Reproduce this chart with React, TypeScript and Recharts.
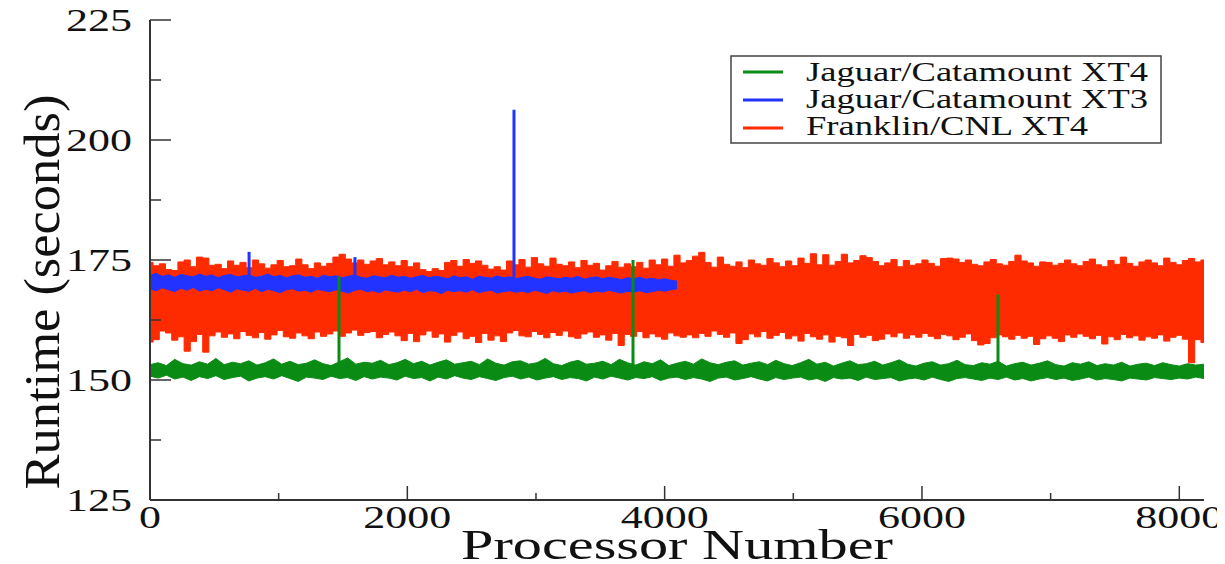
import React from "react";
import { Area, ComposedChart, Legend, Line, XAxis, YAxis } from "recharts";

const FONT = '"Liberation Serif", "Times New Roman", Times, serif';
const AXIS = "#333333";

const X_MAX = 8192;
const X_TICKS = [0, 1000, 2000, 3000, 4000, 5000, 6000, 7000, 8000];
const X_MAJOR = [0, 2000, 4000, 6000, 8000];
const Y_TICKS = [125, 137.5, 150, 162.5, 175, 187.5, 200, 212.5, 225];
const Y_MAJOR = [125, 150, 175, 200, 225];

const SERIES = ["Jaguar/Catamount XT4", "Jaguar/Catamount XT3", "Franklin/CNL XT4"];
const COLORS = ["#0a8c14", "#2233ff", "#ff2b00"];

// Franklin/CNL XT4, 0..8192, upper and lower edge of the noise band
const redTop = [
  174.5, 173.8, 174.2, 173.0, 172.8, 174.6, 175.0, 173.6, 175.6, 175.4,
  173.9, 174.1, 173.2, 174.8, 173.9, 174.5, 173.4, 175.0, 174.2, 173.3,
  174.0, 174.9, 173.6, 173.8, 175.2, 174.0, 173.2, 174.4, 173.7,
  174.3, 175.6, 176.2, 175.2, 174.4, 175.0, 174.1, 174.8, 175.3, 174.0,
  174.6, 173.8, 174.9, 173.6, 174.4, 173.0, 172.6, 173.2, 172.8, 174.5,
  174.9, 173.7, 175.1, 174.3, 174.8, 173.9, 173.1, 173.6, 172.9,
  174.8, 174.0, 175.1, 173.5, 175.5, 174.2, 173.7, 175.4, 174.1, 173.8,
  174.6, 173.4, 174.9, 173.9, 174.3, 172.9, 173.8, 174.7, 173.5, 174.2,
  173.6, 174.5, 173.3, 175.0, 174.0, 175.2, 173.7, 176.0, 174.4,
  174.9, 175.8, 176.6, 174.5, 173.5, 175.6, 174.1, 173.7, 174.6, 173.4,
  175.0, 174.2, 173.9, 175.3, 174.4, 173.6, 174.8, 173.8, 175.4, 174.3,
  176.3, 174.0, 176.1, 173.9, 174.7, 176.2, 174.4, 174.9, 175.9,
  175.5, 174.7, 173.8, 174.4, 175.1, 173.6, 174.9, 173.9, 174.2, 175.0,
  174.3, 173.7, 175.3, 175.4, 175.2, 174.5, 175.0, 174.1, 173.8, 174.6,
  175.1, 174.2, 173.9, 174.7, 176.0, 174.8, 174.4, 173.7, 174.6,
  174.5, 173.9, 174.3, 175.0, 174.2, 173.8, 174.7, 175.2, 174.0, 173.6,
  174.9, 174.1, 175.6, 174.3, 173.7, 174.6, 175.0, 174.4, 173.8, 175.4,
  174.5, 174.0, 174.9, 175.3, 174.6, 175.0,
];
const redBottom = [
  157.9, 158.4, 160.2, 159.8, 158.3, 159.0, 156.0, 158.0, 159.5, 155.8,
  159.2, 160.0, 158.9, 159.6, 158.6, 160.1, 159.3, 158.8, 159.9, 158.5,
  159.4, 160.3, 159.0, 158.7, 159.8, 159.2, 158.6, 160.0, 159.1,
  159.6, 160.2, 159.1, 159.8, 160.4, 159.3, 159.9, 160.1, 158.8, 159.5,
  160.0, 159.2, 158.2, 159.7, 158.0, 159.4, 160.2, 158.9, 159.6, 157.9,
  159.3, 160.0, 158.6, 159.1, 157.8, 159.7, 158.3, 159.2, 158.0,
  159.8, 160.3, 159.2, 159.0, 160.1, 159.5, 158.8, 159.9, 159.3, 160.2,
  159.0, 158.7, 159.6, 160.0, 158.9, 159.4, 158.3, 159.7, 157.2, 159.5,
  159.1, 160.1, 158.8, 159.6, 159.0, 158.5, 159.8, 159.2, 158.9,
  159.4, 158.8, 159.7, 159.1, 160.2, 159.5, 158.9, 159.8, 157.6, 158.4,
  159.6, 159.0, 160.1, 158.7, 159.3, 159.9, 158.6, 159.2, 158.1, 159.7,
  159.0, 158.5, 159.4, 157.9, 159.1, 158.8, 157.2, 159.5, 158.9,
  159.3, 158.2, 158.5, 159.6, 159.0, 159.8, 158.7, 159.4, 158.9, 159.7,
  159.1, 158.6, 159.5, 159.2, 158.4, 158.9, 159.6, 158.2, 157.3, 157.6,
  158.8, 159.4, 159.0, 158.5, 159.3, 158.7, 159.1, 157.4, 158.6,
  159.2, 158.7, 158.0, 159.4, 158.9, 159.6, 159.1, 158.6, 159.3, 157.5,
  159.0, 158.4, 159.5, 158.8, 159.2, 158.3, 159.0, 158.7, 159.4, 158.1,
  158.9, 159.3, 158.5, 153.6, 158.4, 157.8,
];

// Jaguar/Catamount XT3, only 0..4096
const BLUE_END = 4096;
const blueTop = [
  171.8, 172.2, 171.6, 171.9, 171.4, 172.0, 171.7, 171.5, 172.1, 171.6,
  171.9, 171.3, 171.8, 172.0, 171.5, 171.7, 171.9, 171.4, 171.6, 172.1,
  171.5, 171.8, 171.3, 171.7, 171.9, 171.4, 171.6, 171.2, 171.8, 171.5,
  171.7, 171.3, 171.6, 171.9, 171.4, 171.2, 171.7, 171.5, 171.3, 171.8,
  171.4, 171.6, 171.2, 171.5, 171.8, 171.3, 171.6, 171.4, 171.1, 171.7,
  171.3, 171.5, 171.0, 171.6, 171.4, 171.2, 171.7, 171.3, 171.5, 171.1,
  171.4, 171.6, 171.2, 171.0, 171.5, 171.3, 171.1, 171.4, 171.2, 171.6,
  171.0, 171.3, 171.5, 171.1, 171.4, 171.2, 170.9, 171.3, 171.1, 171.4,
  171.0, 171.2, 170.9, 171.1, 170.8, 170.6,
];
const blueBottom = [
  169.0, 168.6, 169.2, 168.8, 168.4, 169.1, 168.7, 169.3, 168.5, 168.9,
  168.6, 169.2, 168.8, 168.3, 169.0, 168.7, 168.5, 169.1, 168.4, 168.9,
  168.6, 168.2, 168.8, 169.0, 168.5, 168.7, 168.3, 168.9, 168.6, 168.4,
  168.8, 168.5, 168.1, 168.7, 168.9, 168.4, 168.6, 168.2, 168.8, 168.5,
  168.3, 168.7, 168.4, 168.9, 168.2, 168.6, 168.5, 168.0, 168.7, 168.4,
  168.6, 168.3, 168.8, 168.2, 168.5, 168.7, 168.1, 168.4, 168.6, 168.3,
  168.5, 168.2, 168.7, 168.4, 168.0, 168.6, 168.3, 168.5, 168.1, 168.4,
  168.6, 168.2, 168.5, 168.3, 168.7, 168.4, 168.1, 168.5, 168.3, 168.6,
  168.2, 168.4, 168.7, 168.5, 168.8, 169.0,
];

// Jaguar/Catamount XT4
const greenTop = [
  153.2, 153.6, 153.0, 154.3, 153.4, 153.1, 153.8, 153.3, 154.5, 153.2,
  153.7, 153.4, 154.0, 153.1, 153.6, 154.4, 153.3, 153.9, 153.2, 153.5,
  154.2, 153.4, 153.0, 153.8, 154.6, 153.3, 153.7, 153.5, 154.1, 153.2,
  153.6, 154.3, 153.4, 153.9, 153.1, 153.7, 154.2, 153.3, 153.6, 153.9,
  153.2, 154.4, 153.5, 153.1, 153.8, 154.0, 153.3, 153.6, 154.5, 153.4,
  153.0, 153.7, 154.1, 153.3, 153.5, 153.9, 153.2, 154.3, 153.6, 153.1,
  153.8, 153.4, 154.2, 153.0, 153.5, 153.9, 153.3, 154.4, 153.6, 153.2,
  153.7, 154.0, 153.1, 153.5, 153.8, 153.2, 154.1, 153.4, 153.0, 153.6,
  154.3, 153.3, 153.7, 152.9, 153.5, 154.0, 153.2, 153.4, 153.9, 153.1,
  153.6, 154.2, 153.3, 152.9, 153.5, 153.8, 153.1, 153.4, 154.1, 153.2,
  153.0, 153.6, 153.3, 153.9, 152.9, 153.4, 153.7, 153.1, 153.5, 154.0,
  153.2, 152.9, 153.6, 153.3, 153.8, 153.0, 153.4, 153.1, 153.7, 152.9,
  153.3, 153.5, 153.0, 153.6, 153.2, 152.9, 153.4, 153.1, 153.3,
];
const greenBottom = [
  150.8, 150.4, 151.0, 150.2, 150.6, 149.9, 150.7, 150.3, 150.9, 150.1,
  150.5, 150.8, 149.8, 150.4, 150.7, 150.2, 150.9, 150.3, 149.7, 150.6,
  150.4, 150.1, 150.8, 150.3, 150.5, 149.9, 150.7, 150.2, 150.6, 150.4,
  150.0, 150.8, 150.3, 150.5, 149.8, 150.6, 150.2, 150.9, 150.4, 150.1,
  150.7, 150.3, 149.9, 150.5, 150.8, 150.2, 150.6, 150.0, 150.4, 150.7,
  150.1, 150.5, 150.3, 149.8, 150.6, 150.2, 150.8, 150.4, 150.0, 150.5,
  150.3, 150.7, 149.9, 150.4, 150.6, 150.1, 150.5, 150.2, 149.7, 150.4,
  150.6, 150.0, 150.3, 150.7, 150.2, 149.8, 150.5, 150.1, 150.4, 150.6,
  150.0, 150.3, 149.7, 150.5, 150.2, 150.4, 149.9, 150.6, 150.1, 150.3,
  150.5, 149.8, 150.2, 150.4, 150.0, 150.6, 150.1, 149.7, 150.3, 150.5,
  150.2, 149.9, 150.4, 150.1, 150.6, 150.0, 150.3, 149.8, 150.2, 150.5,
  150.1, 150.4, 149.9, 150.2, 150.6, 150.0, 150.3, 150.1, 149.8, 150.4,
  150.2, 150.0, 150.5, 150.3, 150.1, 150.4, 150.2, 150.6, 150.3,
];

// single slow processors
const greenSpikeAt = [1469, 3754, 6591];
const greenSpikeTop = [171.5, 175.0, 167.8];
const GREEN_BASE = 152;
const blueSpikeAt = [770, 1593, 2829];
const blueSpikeTop = [176.7, 175.6, 206.3];
const BLUE_BASE = 170;

const band = (top: number[], bottom: number[], xEnd: number) =>
  top.map((t, i) => ({ x: (i * xEnd) / (top.length - 1), range: [bottom[i], t] }));

const spike = (at: number, top: number, base: number) => [
  { x: at, y: base },
  { x: at, y: top },
];

const redData = band(redTop, redBottom, X_MAX);
const blueData = band(blueTop, blueBottom, BLUE_END);
const greenData = band(greenTop, greenBottom, X_MAX);

const DIGIT_W = 22;
const textStyle = { fontFamily: FONT, fill: "#111" };

function BottomTick({ x, y, payload }: any) {
  const major = X_MAJOR.includes(payload.value);
  const label = String(payload.value);
  return (
    <g>
      <line x1={x} x2={x} y1={y} y2={y - (major ? 14 : 7)} stroke={AXIS} strokeWidth={1.5} />
      {major && (
        <text
          x={x}
          y={y + 28}
          textAnchor="middle"
          fontSize={31}
          style={textStyle}
          textLength={label.length * DIGIT_W}
          lengthAdjust="spacingAndGlyphs"
        >
          {label}
        </text>
      )}
    </g>
  );
}

function TopTick({ x, y, payload }: any) {
  const major = X_MAJOR.includes(payload.value);
  return <line x1={x} x2={x} y1={y} y2={y + (major ? 14 : 7)} stroke={AXIS} strokeWidth={1.5} />;
}

function LeftTick({ x, y, payload }: any) {
  const major = Y_MAJOR.includes(payload.value);
  const label = String(payload.value);
  return (
    <g>
      <line x1={x} x2={x + (major ? 21 : 11)} y1={y} y2={y} stroke={AXIS} strokeWidth={1.5} />
      {major && (
        <text
          x={x - 18}
          y={y + 11}
          textAnchor="end"
          fontSize={32}
          style={textStyle}
          textLength={label.length * DIGIT_W}
          lengthAdjust="spacingAndGlyphs"
        >
          {label}
        </text>
      )}
    </g>
  );
}

function RightTick({ x, y, payload }: any) {
  const major = Y_MAJOR.includes(payload.value);
  return <line x1={x} x2={x - (major ? 21 : 11)} y1={y} y2={y} stroke={AXIS} strokeWidth={1.5} />;
}

const XTitle = () => (
  <text x={669} y={551} textAnchor="middle" fontSize={42} style={textStyle} textLength={432} lengthAdjust="spacingAndGlyphs">
    Processor Number
  </text>
);

const YTitle = () => (
  <text
    transform="translate(34,284) rotate(-90)"
    textAnchor="middle"
    dominantBaseline="central"
    fontSize={50}
    style={textStyle}
    textLength={395}
    lengthAdjust="spacingAndGlyphs"
  >
    Runtime (seconds)
  </text>
);

const LEGEND_LEN = [342, 342, 282];

function LegendBox() {
  return (
    <svg width={432} height={89}>
      <rect x={1} y={1} width={430} height={87} fill="#fff" stroke="#444" strokeWidth={1.5} />
      {SERIES.map((name, i) => (
        <g key={name}>
          <line x1={13} x2={53} y1={17 + i * 28} y2={17 + i * 28} stroke={COLORS[i]} strokeWidth={3} />
          <text
            x={76}
            y={26 + i * 27}
            fontSize={27}
            style={textStyle}
            textLength={LEGEND_LEN[i]}
            lengthAdjust="spacingAndGlyphs"
          >
            {name}
          </text>
        </g>
      ))}
    </svg>
  );
}

export default function App() {
  return (
    <div style={{ width: 1217, height: 556, position: "relative", fontFamily: FONT }}>
      <ComposedChart width={1217} height={556} margin={{ top: 12, right: 21, bottom: 0, left: 0 }}>
        <XAxis
          type="number"
          dataKey="x"
          domain={[0, X_MAX]}
          allowDataOverflow
          ticks={X_TICKS}
          interval={0}
          tickLine={false}
          tickSize={0}
          tickMargin={0}
          height={64}
          axisLine={{ stroke: AXIS, strokeWidth: 2 }}
          tick={BottomTick}
          label={XTitle}
        />
        <XAxis
          xAxisId="top"
          orientation="top"
          type="number"
          dataKey="x"
          domain={[0, X_MAX]}
          allowDataOverflow
          ticks={X_TICKS}
          interval={0}
          tickLine={false}
          tickSize={0}
          tickMargin={0}
          height={0}
          axisLine={{ stroke: AXIS, strokeWidth: 2 }}
          tick={TopTick}
        />
        <YAxis
          type="number"
          domain={[125, 225]}
          allowDataOverflow
          ticks={Y_TICKS}
          interval={0}
          tickLine={false}
          tickSize={0}
          tickMargin={0}
          width={142}
          axisLine={{ stroke: AXIS, strokeWidth: 2 }}
          tick={LeftTick}
          label={YTitle}
        />
        <YAxis
          yAxisId="right"
          orientation="right"
          type="number"
          domain={[125, 225]}
          allowDataOverflow
          ticks={Y_TICKS}
          interval={0}
          tickLine={false}
          tickSize={0}
          tickMargin={0}
          width={0}
          axisLine={{ stroke: AXIS, strokeWidth: 2 }}
          tick={RightTick}
        />
        <Legend
          layout="vertical"
          align="center"
          verticalAlign="middle"
          content={() => <LegendBox />}
          wrapperStyle={{ position: "absolute", left: 722, top: 47, width: 432, height: 89 }}
        />
        <Area
          data={redData}
          dataKey="range"
          name={SERIES[2]}
          type="step"
          stroke={COLORS[2]}
          strokeWidth={1}
          fill={COLORS[2]}
          fillOpacity={1}
          dot={false}
          activeDot={false}
          isAnimationActive={false}
        />
        <Area
          data={blueData}
          dataKey="range"
          name={SERIES[1]}
          type="linear"
          stroke={COLORS[1]}
          strokeWidth={1}
          fill={COLORS[1]}
          fillOpacity={1}
          dot={false}
          activeDot={false}
          isAnimationActive={false}
        />
        {blueSpikeAt.map((at, i) => (
          <Line
            key={`b${at}`}
            data={spike(at, blueSpikeTop[i], BLUE_BASE)}
            dataKey="y"
            stroke={COLORS[1]}
            strokeWidth={3}
            dot={false}
            activeDot={false}
            legendType="none"
            isAnimationActive={false}
          />
        ))}
        <Area
          data={greenData}
          dataKey="range"
          name={SERIES[0]}
          type="linear"
          stroke={COLORS[0]}
          strokeWidth={1}
          fill={COLORS[0]}
          fillOpacity={1}
          dot={false}
          activeDot={false}
          isAnimationActive={false}
        />
        {greenSpikeAt.map((at, i) => (
          <Line
            key={`g${at}`}
            data={spike(at, greenSpikeTop[i], GREEN_BASE)}
            dataKey="y"
            stroke={COLORS[0]}
            strokeWidth={3}
            dot={false}
            activeDot={false}
            legendType="none"
            isAnimationActive={false}
          />
        ))}
      </ComposedChart>
    </div>
  );
}
